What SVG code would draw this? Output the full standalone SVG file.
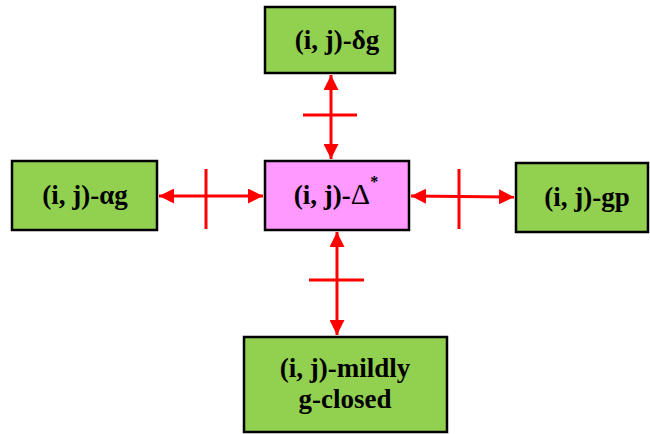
<svg xmlns="http://www.w3.org/2000/svg" width="650" height="434" viewBox="0 0 650 434">
<style>
.g{fill:#92D050;stroke:#000;stroke-width:2.5}
.p{fill:#FF99FF;stroke:#000;stroke-width:2.5}
.t{font-family:"Liberation Serif","Times New Roman",Times,serif;font-weight:bold;font-size:27px;fill:#000;text-anchor:middle}
.c{stroke:#FF0000;stroke-width:3;fill:none}
</style>
<defs>
<marker id="ah" viewBox="0 0 10 10" refX="10" refY="5" markerWidth="5" markerHeight="5" orient="auto-start-reverse" markerUnits="strokeWidth">
<path d="M0,0 L10,5 L0,10 z" fill="#FF0000"/>
</marker>
</defs>
<g id="connectors">
<line class="c" x1="331" y1="75" x2="331" y2="159" marker-start="url(#ah)" marker-end="url(#ah)"/>
<line class="c" x1="303" y1="115" x2="357" y2="115"/>
<line class="c" x1="159" y1="196" x2="263" y2="196" marker-start="url(#ah)" marker-end="url(#ah)"/>
<line class="c" x1="206" y1="169" x2="206" y2="229"/>
<line class="c" x1="411" y1="196" x2="514" y2="197" marker-start="url(#ah)" marker-end="url(#ah)"/>
<line class="c" x1="459" y1="169" x2="459" y2="229"/>
<line class="c" x1="337" y1="232" x2="337" y2="335" marker-start="url(#ah)" marker-end="url(#ah)"/>
<line class="c" x1="309" y1="280" x2="364" y2="280"/>
</g>
<g id="node-dg">
<rect class="g" x="265" y="7" width="130" height="66"/>
<text class="t" x="337" y="49">(i, j)-δg</text>
</g>
<g id="node-delta">
<rect class="p" x="265" y="161" width="144" height="69"/>
<text class="t" x="336" y="204">(i, j)-<tspan font-size="30" font-weight="normal">Δ</tspan><tspan dy="-17" font-size="16">*</tspan></text>
</g>
<g id="node-ag">
<rect class="g" x="12" y="161" width="145" height="69"/>
<text class="t" x="85" y="204">(i, j)-αg</text>
</g>
<g id="node-gp">
<rect class="g" x="516" y="163" width="132" height="69"/>
<text class="t" x="587" y="206">(i, j)-gp</text>
</g>
<g id="node-mildly">
<rect class="g" x="244" y="337" width="203" height="95"/>
<text class="t" x="345" y="377">(i, j)-mildly</text>
<text class="t" x="345" y="408">g-closed</text>
</g>
</svg>
